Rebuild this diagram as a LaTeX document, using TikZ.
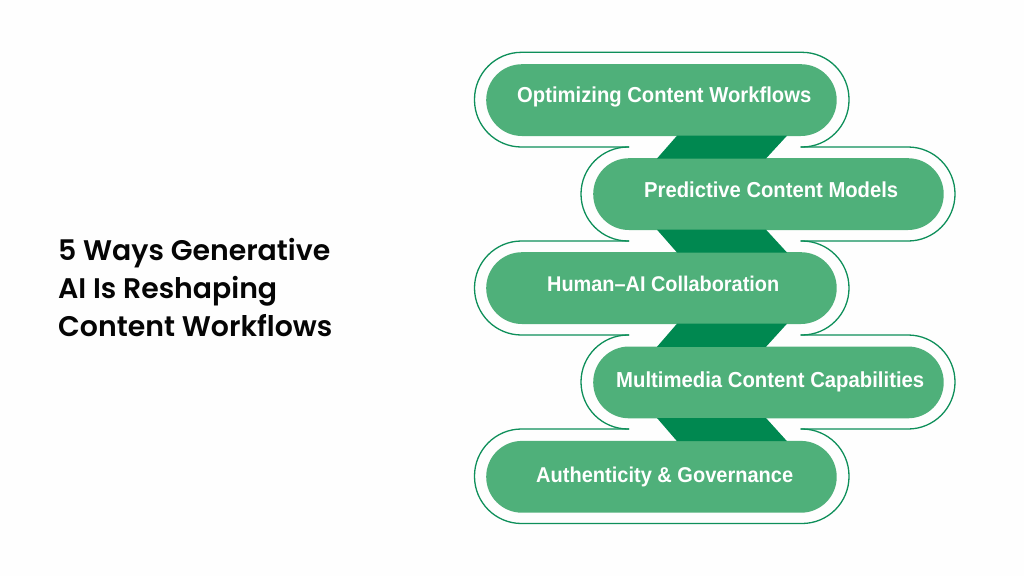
\documentclass[tikz,border=0pt]{standalone}
\usepackage{fontspec}
\usepackage{graphicx}
\usetikzlibrary{calc}
\setmainfont{Liberation Sans}
\newfontfamily\titlefont{Poppins}[UprightFont=* SemiBold]
\newfontfamily\pillfont{Liberation Sans}[UprightFont=* Bold]
\definecolor{pillgreen}{HTML}{4FB07A}
\definecolor{deepgreen}{HTML}{008850}
\definecolor{linegreen}{HTML}{0E8F5A}
\definecolor{titleink}{HTML}{050505}
\definecolor{pagewhite}{HTML}{FEFEFE}
\tikzset{
  pill/.style={fill=pillgreen,draw=none,rounded corners=35.8pt,minimum width=350.5pt,minimum height=71.8pt,inner sep=0pt,anchor=north west},
  bridge/.style={fill=deepgreen,draw=none},
  halo/.style={draw=linegreen,line width=1.3pt,rounded corners=47pt,fill=none},
  pilltext/.style={anchor=base west,inner sep=0pt,text=white,font=\pillfont},
  titletext/.style={anchor=base west,inner sep=0pt,text=titleink,font=\titlefont}
}
\newcommand{\fitw}[2]{\resizebox{#1pt}{!}{#2}}
\newcommand{\fitt}[2]{\scalebox{1}[1.07]{\resizebox{#1pt}{!}{#2}}}
\begin{document}
\begin{tikzpicture}[x=1pt,y=1pt]
\fill[pagewhite] (0,0) rectangle (1024,-576);
\useasboundingbox (0,0) rectangle (1024,-576);
% junctions of the outlines
\coordinate (l1) at (629,-147); \coordinate (r1) at (800.7,-147);
\coordinate (l2) at (629,-241); \coordinate (r2) at (800.7,-241);
\coordinate (l3) at (629,-335); \coordinate (r3) at (800.7,-335);
\coordinate (l4) at (629,-429); \coordinate (r4) at (800.7,-429);
% outlines
\draw[halo] (l1) -- (474.5,-147) -- (474.5,-52.3) -- (849,-52.3) -- (849,-147) -- (r1);
\draw[halo] (l1) -- (581,-147) -- (581,-241) -- (l2);
\draw[halo] (r1) -- (955,-147) -- (955,-241) -- (r2);
\draw[halo] (l2) -- (474.5,-241) -- (474.5,-335) -- (l3);
\draw[halo] (r2) -- (849,-241) -- (849,-335) -- (r3);
\draw[halo] (l3) -- (581,-335) -- (581,-429) -- (l4);
\draw[halo] (r3) -- (955,-335) -- (955,-429) -- (r4);
\draw[halo] (l4) -- (474.5,-429) -- (474.5,-523.5) -- (849,-523.5) -- (849,-429) -- (r4);
% pills
\node[pill] (p1) at (486,-64) {};
\node[pill] (p2) at (593,-158) {};
\node[pill] (p3) at (486,-252) {};
\node[pill] (p4) at (593,-346.3) {};
\node[pill] (p5) at (486,-440.7) {};
% bridges
\fill[bridge] ($(p1.south west)+(191,0.5)$) -- ($(p1.south west)+(301,0.5)$) -- ($(p2.north west)+(173,-0.5)$) -- ($(p2.north west)+(64,-0.5)$) -- cycle;
\fill[bridge] ($(p2.south west)+(64,0.5)$) -- ($(p2.south west)+(173,0.5)$) -- ($(p3.north west)+(301,-0.5)$) -- ($(p3.north west)+(191,-0.5)$) -- cycle;
\fill[bridge] ($(p3.south west)+(191,0.5)$) -- ($(p3.south west)+(301,0.5)$) -- ($(p4.north west)+(173,-0.5)$) -- ($(p4.north west)+(64,-0.5)$) -- cycle;
\fill[bridge] ($(p4.south west)+(64,0.5)$) -- ($(p4.south west)+(173,0.5)$) -- ($(p5.north west)+(301,-0.5)$) -- ($(p5.north west)+(191,-0.5)$) -- cycle;
% pill texts
\node[pilltext] (t1) at (517,-102) {\fitt{294}{Optimizing Content Workflows}};
\node[pilltext] (t2) at (644,-197) {\fitt{254}{Predictive Content Models}};
\node[pilltext] (t3) at (547,-291) {\fitt{232}{Human–AI Collaboration}};
\node[pilltext] (t4) at (616,-387) {\fitt{308}{Multimedia Content Capabilities}};
\node[pilltext] (t5) at (536,-482) {\fitt{257}{Authenticity \& Governance}};
% title
\node[titletext] (h1) at (58,-260) {\fitw{272}{5 Ways Generative}};
\node[titletext] (h2) at (58,-298) {\fitw{219}{AI Is Reshaping}};
\node[titletext] (h3) at (58,-336) {\fitw{274}{Content Workflows}};
\end{tikzpicture}
\end{document}
